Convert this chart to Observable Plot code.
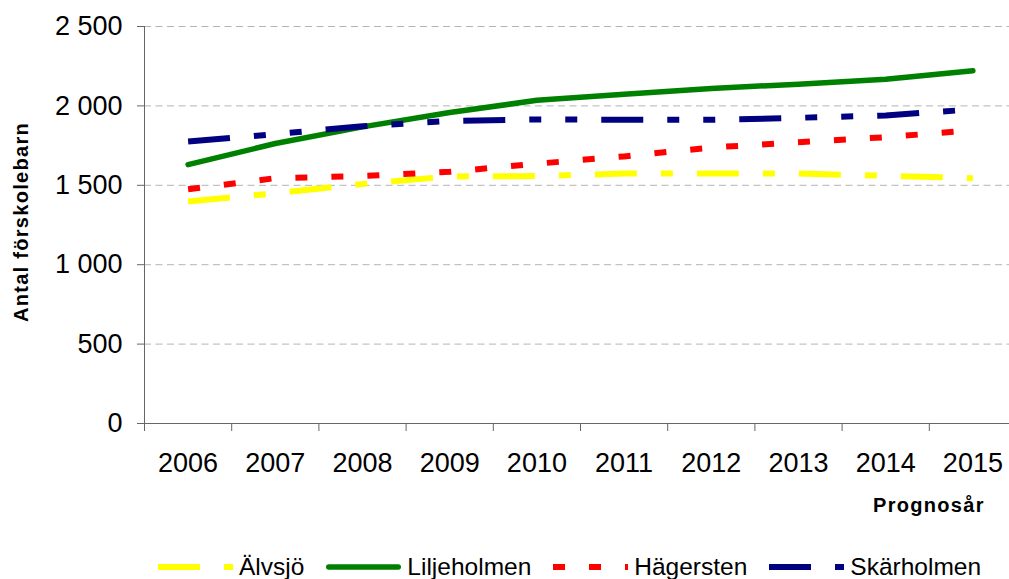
<!DOCTYPE html>
<html>
<head>
<meta charset="utf-8">
<script src="https://cdn.jsdelivr.net/npm/d3@7"></script>
<script src="https://cdn.jsdelivr.net/npm/@observablehq/plot@0.6"></script>
<style>
  html, body { margin: 0; padding: 0; background: #fff; }
  body { font-family: "Liberation Sans", Arial, sans-serif; color: #000; }
  #wrap { position: relative; width: 1009px; height: 579px; overflow: hidden; background: #fff; }
  #chart svg { display: block; }
  .axtitle { position: absolute; font-weight: bold; font-size: 20px; letter-spacing: 1.3px; line-height: 20px; white-space: nowrap; }
  #legend { position: absolute; left: 158px; top: 552px; height: 30px; display: flex; align-items: center; font-size: 24.5px; line-height: 30px; white-space: nowrap; }
  #legend .item { display: flex; align-items: center; margin-right: 22px; }
  #legend .item span { margin-left: 6px; }
  #legend svg { display: block; }
</style>
</head>
<body>
<div id="wrap">
  <div id="chart"></div>
</div>
<script>
// ---- data ----
const years = [2006, 2007, 2008, 2009, 2010, 2011, 2012, 2013, 2014, 2015];
const alvsjo      = [1398, 1450, 1508, 1556, 1558, 1574, 1574, 1574, 1560, 1545];
const liljeholmen = [1630, 1763, 1868, 1958, 2035, 2074, 2110, 2137, 2168, 2221];
const hagersten   = [1475, 1545, 1558, 1585, 1636, 1682, 1738, 1771, 1803, 1847];
const skarholmen  = [1776, 1822, 1872, 1905, 1915, 1912, 1912, 1925, 1940, 1978];
const seriesNames = ["Älvsjö", "Liljeholmen", "Hägersten", "Skärholmen"];
const yTicks = [0, 500, 1000, 1500, 2000, 2500];
const yTitle = "Antal förskolebarn";
const xTitle = "Prognosår";

// ---- styles ----
const valuesBySeries = { "Älvsjö": alvsjo, "Liljeholmen": liljeholmen, "Hägersten": hagersten, "Skärholmen": skarholmen };
const styles = {
  "Älvsjö":      { stroke: "#ffff00", dash: "42,24,12,24",        width: 6,   cap: "butt" },
  "Liljeholmen": { stroke: "#008000", dash: null,                 width: 5.5, cap: "round" },
  "Hägersten":   { stroke: "#ff0000", dash: "12,24",              width: 6,   cap: "butt" },
  "Skärholmen":  { stroke: "#000080", dash: "42,24,12,24,12,24",  width: 6,   cap: "butt" }
};

const data = seriesNames.flatMap(s => years.map((yr, i) => ({ series: s, year: yr, value: valuesBySeries[s][i] })));
const bounds = d3.range(years[0] - 0.5, years[years.length - 1] + 1, 1);
const fmt = d => d3.format(",")(d).replace(/,/g, " ");

const chart = Plot.plot({
  width: 1009,
  height: 540,
  marginTop: 26,
  marginBottom: 117,
  marginLeft: 144,
  marginRight: 0,
  style: { fontFamily: '"Liberation Sans", Arial, sans-serif', color: "#000", background: "transparent", overflow: "visible" },
  x: { domain: [bounds[0], bounds[bounds.length - 1]], range: [144, 1016] },
  y: { domain: [0, 2500] },
  marks: [
    Plot.gridY(yTicks.filter(d => d > 0), { stroke: "#b4b4b4", strokeOpacity: 1, strokeWidth: 1, strokeDasharray: "7,4.5" }),
    Plot.ruleX([bounds[0]], { stroke: "#666", strokeWidth: 1 }),
    Plot.ruleY([0], { stroke: "#666", strokeWidth: 1 }),
    Plot.axisY({ ticks: yTicks, tickSize: 7, tickPadding: 15, tickFormat: fmt, fontSize: 27, stroke: "#666", label: null }),
    Plot.axisX({ ticks: bounds, tickSize: 8, tickFormat: () => "", stroke: "#666", label: null }),
    Plot.axisX({ ticks: years, tickSize: 0, tickPadding: 29, tickFormat: d => String(d), fontSize: 27, label: null }),
    ...seriesNames.map(s => Plot.line(data.filter(d => d.series === s), {
      x: "year", y: "value",
      stroke: styles[s].stroke,
      strokeWidth: styles[s].width,
      strokeDasharray: styles[s].dash,
      strokeLinecap: styles[s].cap,
      strokeLinejoin: "round"
    }))
  ]
});
const wrap = document.getElementById("wrap");
document.getElementById("chart").appendChild(chart);

// axis titles
const yt = document.createElement("div");
yt.className = "axtitle";
yt.textContent = yTitle;
yt.style.left = "21px";
yt.style.top = "222px";
yt.style.transform = "translate(-50%,-50%) rotate(-90deg)";
wrap.appendChild(yt);

const xt = document.createElement("div");
xt.className = "axtitle";
xt.textContent = xTitle;
xt.style.left = "873px";
xt.style.top = "495px";
wrap.appendChild(xt);

// legend
const legend = d3.select(wrap).append("div").attr("id", "legend");
seriesNames.forEach(s => {
  const st = styles[s];
  const item = legend.append("div").attr("class", "item");
  const sv = item.append("svg").attr("width", 75).attr("height", 10);
  const inset = st.cap === "round" ? st.width / 2 : 0;
  sv.append("line")
    .attr("x1", inset).attr("x2", 75 - inset)
    .attr("y1", 5).attr("y2", 5)
    .attr("stroke", st.stroke)
    .attr("stroke-width", st.width)
    .attr("stroke-linecap", st.cap)
    .attr("stroke-dasharray", st.dash);
  item.append("span").text(s);
});
</script>
</body>
</html>
